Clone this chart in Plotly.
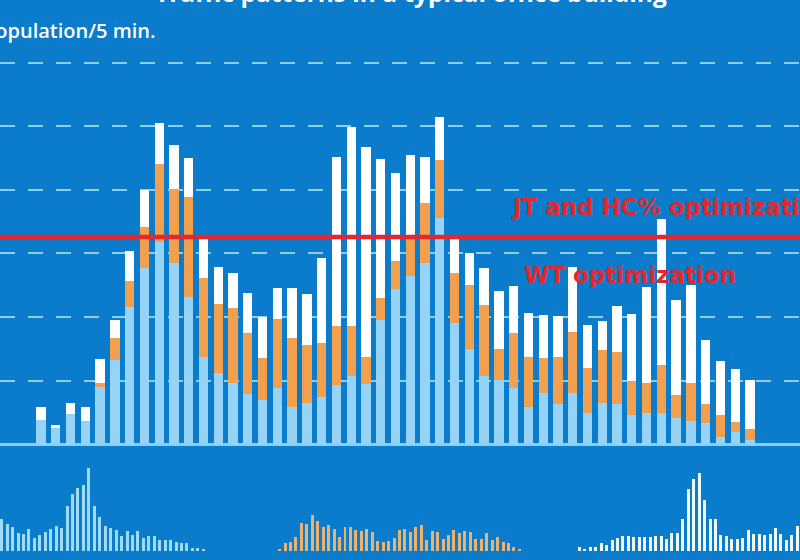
import plotly.graph_objects as go

# ---------------- data ----------------
# main chart: 49 five-minute slots, stacked components (population / 5 min.)
slots = list(range(49))
light_blue = [3.8, 2.5, 4.7, 3.6, 9.0, 13.2, 21.6, 27.7, 31.8, 28.5, 23.1, 13.7, 11.2, 9.6, 7.9, 6.9,
              8.8, 5.8, 6.5, 7.4, 9.3, 10.7, 9.4, 19.5, 24.4, 26.5, 28.5, 35.6, 19.1, 15.0, 10.7, 10.1,
              8.8, 5.8, 8.0, 6.3, 8.0, 4.9, 6.5, 6.3, 4.6, 4.9, 4.9, 4.1, 3.6, 3.3, 1.1, 1.9, 0.6]
orange_top = [3.8, 2.5, 4.7, 3.6, 9.6, 16.7, 25.7, 34.2, 44.1, 40.2, 38.9, 26.1, 22.0, 21.4, 17.5, 13.5,
              19.7, 16.7, 15.6, 15.9, 18.6, 18.6, 13.7, 23.0, 28.8, 32.4, 38.0, 44.7, 26.9, 25.0, 21.9, 15.0,
              17.5, 13.7, 13.5, 13.7, 17.6, 12.0, 14.8, 14.5, 9.9, 9.6, 12.4, 7.7, 9.6, 6.3, 4.6, 3.5, 2.4]
total_top = [5.8, 3.0, 6.5, 5.8, 13.4, 19.5, 30.4, 40.0, 50.6, 47.1, 45.0, 32.4, 27.9, 26.9, 23.8, 20.0,
             24.6, 24.6, 23.6, 29.3, 45.2, 49.9, 46.8, 44.9, 42.7, 45.5, 45.2, 51.5, 32.3, 30.1, 27.7, 24.1,
             24.9, 20.6, 20.3, 20.2, 27.9, 18.7, 19.4, 21.7, 20.5, 24.7, 35.4, 22.7, 25.0, 16.4, 13.1, 11.8, 10.1]
orange_seg = [round(o - l, 2) for o, l in zip(orange_top, light_blue)]
white_seg = [round(t - o, 2) for t, o in zip(total_top, orange_top)]

threshold_value = 32.6
label_upper = "JT and HC% optimization"
label_lower = "WT optimization"
title_text = "Traffic patterns in a typical office building"
unit_text = "Population/5 min."

# small distribution strips under the chart
strip_lb = [32, 26.7, 24.3, 18.3, 17, 22, 13.3, 16, 18.7, 22, 25, 22.7, 45.3, 56.7, 62.7, 66, 83.3, 45,
            34, 25.3, 23.3, 21, 15, 20, 16, 20, 12.7, 15.3, 14.7, 10.7, 11.3, 10.7, 9.3, 8.3, 7.7, 3.3,
            3.3, 2]
strip_or = [1.7, 7.7, 8.7, 13.7, 28.3, 27, 35.7, 29.7, 24.3, 26, 22, 13.7, 24.3, 24.3, 21, 20.3, 21.7,
            18.7, 10.3, 9.3, 10.3, 13.3, 21, 21.7, 18.7, 24.3, 26, 11, 20.3, 18.7, 11.7, 16, 21, 17.7,
            20, 18.7, 11.7, 11.7, 18.3, 11, 14.3, 8.7, 8.3, 4.3, 1.7]
strip_wh = [4.3, 1.7, 3.7, 4.3, 7.7, 6, 11, 12.7, 15.3, 15.3, 14.3, 14.3, 14.3, 14.3, 15, 15.3, 11.7,
            18.3, 18.3, 31.7, 61.7, 72, 78.3, 51, 31.7, 31.7, 16, 15.3, 12.3, 11.7, 13, 20.7, 16.7, 16.7,
            16.3, 16.7, 23.3, 16.7, 11, 16, 25]
strip_start = [0, 51, 106]

# ---------------- styling ----------------
BG = "#0A7CCB"
LB = "#95D4F6"
OR = "#F2A04E"
WH = "#FFFFFF"
RED = "#E2282F"
GRID = "rgba(150,210,245,0.95)"

fig = go.Figure()
fig.add_trace(go.Bar(x=slots, y=light_blue, marker=dict(color=LB, line_width=0), width=0.63,
                     xaxis="x", yaxis="y"))
fig.add_trace(go.Bar(x=slots, y=orange_seg, marker=dict(color=OR, line_width=0), width=0.63,
                     xaxis="x", yaxis="y"))
fig.add_trace(go.Bar(x=slots, y=white_seg, marker=dict(color=WH, line_width=0), width=0.63,
                     xaxis="x", yaxis="y"))

for vals, start, col in [(strip_lb, strip_start[0], "#9EDBF8"),
                         (strip_or, strip_start[1], "#E9B272"),
                         (strip_wh, strip_start[2], "#EEF8FF")]:
    fig.add_trace(go.Bar(x=[start + i for i in range(len(vals))], y=vals,
                         marker=dict(color=col, line_width=0), width=0.55,
                         xaxis="x2", yaxis="y2"))

fig.add_shape(type="line", xref="paper", x0=0, x1=1, yref="y", y0=threshold_value, y1=threshold_value,
              line=dict(color=RED, width=4.5), layer="above")

fig.add_annotation(text=label_upper, xref="paper", yref="paper", x=0.636, y=0.6304,
                   xanchor="left", yanchor="middle", showarrow=False,
                   font=dict(family="DejaVu Sans", size=23, color=RED, weight="bold"))
fig.add_annotation(text=label_lower, xref="paper", yref="paper", x=0.652, y=0.5089,
                   xanchor="left", yanchor="middle", showarrow=False,
                   font=dict(family="DejaVu Sans", size=23, color=RED, weight="bold"))
fig.add_annotation(text=title_text, xref="paper", yref="paper", x=0.514, y=0.9804,
                   xanchor="center", yanchor="bottom", showarrow=False,
                   font=dict(family="Open Sans", size=24.5, color="white", weight="bold"))
fig.add_annotation(text=unit_text, xref="paper", yref="paper", x=0.198, y=0.9179,
                   xanchor="right", yanchor="bottom", showarrow=False,
                   font=dict(family="Open Sans", size=20, color="white", weight=600))

fig.update_layout(
    width=800, height=560,
    margin=dict(l=0, r=0, t=0, b=0),
    paper_bgcolor=BG, plot_bgcolor=BG,
    barmode="stack", showlegend=False,
    xaxis=dict(domain=[0, 1], range=[-2.776, 51.39], visible=False),
    yaxis=dict(domain=[0.2071, 1], range=[0, 69.9], dtick=10, showgrid=True, gridcolor=GRID,
               gridwidth=2, griddash="15px,13px", zeroline=True, zerolinecolor="#8ACFF4",
               zerolinewidth=3, showticklabels=False, ticks=""),
    xaxis2=dict(domain=[0, 1], range=[-0.312, 146.5], visible=False, anchor="y2"),
    yaxis2=dict(domain=[0.01607, 0.2], range=[0, 103], visible=False, anchor="x2"),
)

fig.write_html("out.html")
